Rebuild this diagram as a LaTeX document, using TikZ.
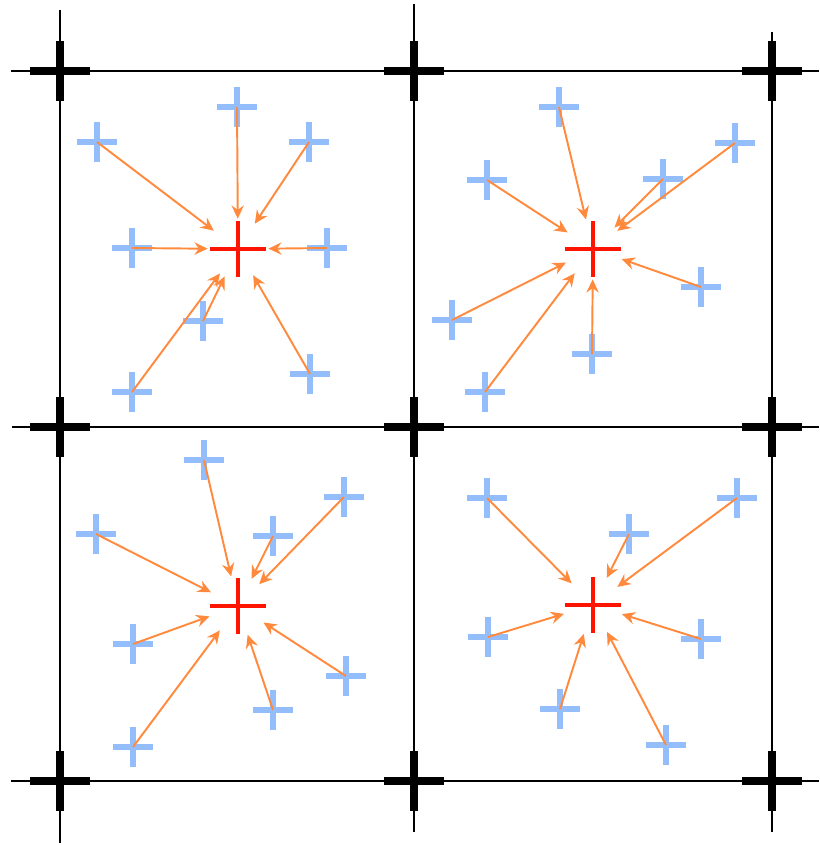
\documentclass[tikz,border=0pt]{standalone}
\usepackage{tikz}
\usepackage{xcolor}
\usetikzlibrary{arrows.meta}
\definecolor{siteblue}{HTML}{93BDFB}
\definecolor{hubred}{HTML}{FF1400}
\definecolor{floworange}{HTML}{FF8A3D}

\begin{document}
\begin{tikzpicture}[x=0.02cm, y=-0.02cm,
    site/.style={rectangle, inner sep=0pt, minimum size=0.8cm,
      path picture={\draw[siteblue, line width=3.7pt]
        (path picture bounding box.north) -- (path picture bounding box.south)
        (path picture bounding box.west) -- (path picture bounding box.east);}},
    hub/.style={circle, inner sep=0pt, minimum size=1.2cm,
      path picture={\draw[hubred, line width=2pt]
        ([yshift=0.56cm]path picture bounding box.center) -- ([yshift=-0.56cm]path picture bounding box.center)
        ([xshift=-0.56cm]path picture bounding box.center) -- ([xshift=0.56cm]path picture bounding box.center);}},
    flow/.style={floworange, line width=1.1pt, -{Stealth[length=7.5pt, width=7pt, inset=2.5pt]}},
    gridline/.style={black, line width=1.1pt},
    knot/.style={black, line width=4.5pt}]
  \useasboundingbox (0,0) rectangle (819,845);

  % grid
  \draw[gridline] (60,10) -- (60,843);
  \draw[gridline] (414,4) -- (414,832);
  \draw[gridline] (772,32) -- (772,832);
  \draw[gridline] (11,71) -- (819,71);
  \draw[gridline] (12,427) -- (819,427);
  \draw[gridline] (11,781) -- (819,781);
  \foreach \x in {60,414,772}
    \foreach \y in {71,427,781}
      \draw[knot] (\x-30,\y) -- (\x+30,\y) (\x,\y-30) -- (\x,\y+30);

  % cell top left
  \node[hub] (h1) at (238,249) {};
  \node[site] (a1) at (237,107) {};
  \node[site] (a2) at (97,142) {};
  \node[site] (a3) at (309,142) {};
  \node[site] (a4) at (132,248) {};
  \node[site] (a5) at (327,248) {};
  \node[site] (a6) at (203,321) {};
  \node[site] (a7) at (132,392) {};
  \node[site] (a8) at (310,374) {};

  % cell top right
  \node[hub] (h2) at (593,249) {};
  \node[site] (b1) at (559,107) {};
  \node[site] (b2) at (487,180) {};
  \node[site] (b3) at (663,179) {};
  \node[site] (b4) at (735,143) {};
  \node[site] (b5) at (701,287) {};
  \node[site] (b6) at (452,320) {};
  \node[site] (b7) at (592,354) {};
  \node[site] (b8) at (485,392) {};

  % cell bottom left
  \node[hub] (h3) at (238,606) {};
  \node[site] (c1) at (204,460) {};
  \node[site] (c2) at (96,534) {};
  \node[site] (c3) at (273,536) {};
  \node[site] (c4) at (344,497) {};
  \node[site] (c5) at (133,644) {};
  \node[site] (c6) at (346,676) {};
  \node[site] (c7) at (273,710) {};
  \node[site] (c8) at (133,747) {};

  % cell bottom right
  \node[hub] (h4) at (593,605) {};
  \node[site] (d1) at (487,498) {};
  \node[site] (d2) at (629,534) {};
  \node[site] (d3) at (737,498) {};
  \node[site] (d4) at (488,637) {};
  \node[site] (d5) at (701,639) {};
  \node[site] (d6) at (560,709) {};
  \node[site] (d7) at (666,745) {};

  % flows
  \foreach \s in {a1,a2,a3,a4,a5,a6,a7,a8}
    \draw[flow] (\s.center) -- (h1);
  \foreach \s in {b1,b2,b3,b4,b5,b6,b7,b8}
    \draw[flow] (\s.center) -- (h2);
  \foreach \s in {c1,c2,c3,c4,c5,c6,c7,c8}
    \draw[flow] (\s.center) -- (h3);
  \foreach \s in {d1,d2,d3,d4,d5,d6,d7}
    \draw[flow] (\s.center) -- (h4);
\end{tikzpicture}
\end{document}
